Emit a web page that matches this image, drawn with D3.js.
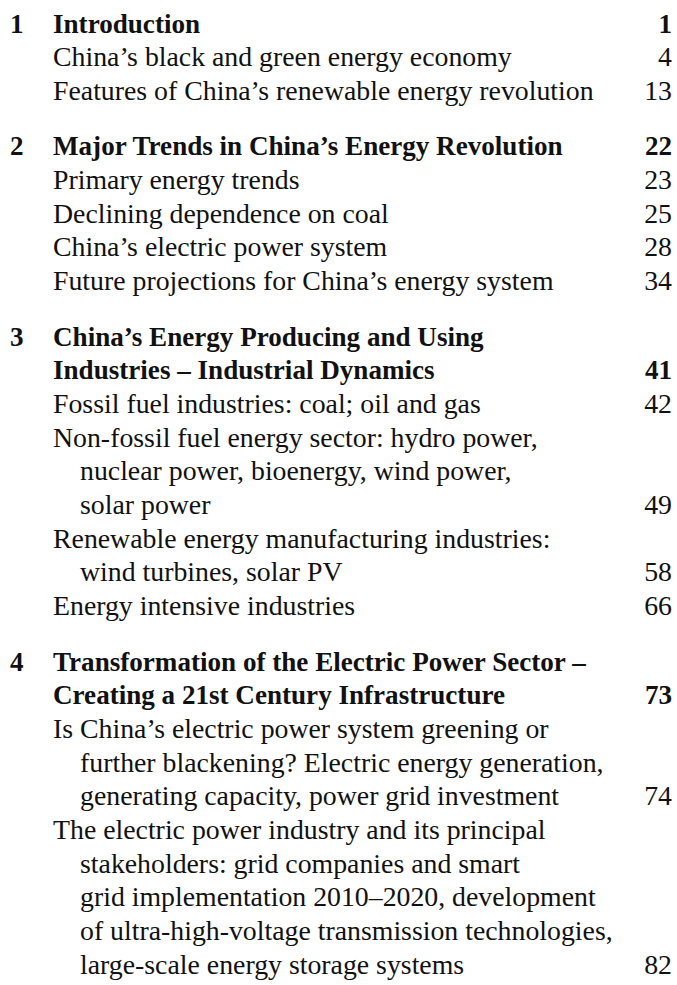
<!DOCTYPE html>
<html>
<head>
<meta charset="utf-8">
<script src="https://cdn.jsdelivr.net/npm/d3@7"></script>
<style>
  html, body { margin: 0; padding: 0; background: #fff; }
  svg { display: block; }
</style>
</head>
<body>
<div id="toc"></div>
<script>
// Table des matières : données
const chapterNums = ["1", "", "", "2", "", "", "", "", "3", "", "", "", "", "4", "", ""];
const entryLines = [
  ["Introduction"],
  ["China’s black and green energy economy"],
  ["Features of China’s renewable energy revolution"],
  ["Major Trends in China’s Energy Revolution"],
  ["Primary energy trends"],
  ["Declining dependence on coal"],
  ["China’s electric power system"],
  ["Future projections for China’s energy system"],
  ["China’s Energy Producing and Using", "Industries – Industrial Dynamics"],
  ["Fossil fuel industries: coal; oil and gas"],
  ["Non-fossil fuel energy sector: hydro power,", "nuclear power, bioenergy, wind power,", "solar power"],
  ["Renewable energy manufacturing industries:", "wind turbines, solar PV"],
  ["Energy intensive industries"],
  ["Transformation of the Electric Power Sector –", "Creating a 21st Century Infrastructure"],
  ["Is China’s electric power system greening or", "further blackening? Electric energy generation,", "generating capacity, power grid investment"],
  ["The electric power industry and its principal", "stakeholders: grid companies and smart", "grid implementation 2010–2020, development", "of ultra-high-voltage transmission technologies,", "large-scale energy storage systems"]
];
const entryPages = ["1", "4", "13", "22", "23", "25", "28", "34", "41", "42", "49", "58", "66", "73", "74", "82"];

const width = 677;
const height = 985;
const lineStep = 33.7;   // interligne
const chapterGap = 21.7; // espace avant un chapitre
const numX = 10, titleX = 53, indentX = 80, pageX = 672;

// position verticale de chaque entrée (en unités de ligne + espaces)
let cursor = 0;
const rows = entryLines.map((lines, i) => {
  const isChapter = chapterNums[i] !== "";
  if (isChapter && i > 0) cursor += chapterGap / lineStep;
  const start = cursor;
  cursor += lines.length;
  return { i, lines, start, isChapter, num: chapterNums[i], page: entryPages[i] };
});

const y = d3.scaleLinear().domain([0, 1]).range([32.5, 32.5 + lineStep]);

const svg = d3.select('#toc').append('svg')
  .attr('width', width)
  .attr('height', height)
  .style('font-family', '"Liberation Serif", "DejaVu Serif", serif')
  .style('fill', '#111');

const g = svg.selectAll('g.entry')
  .data(rows)
  .join('g')
  .attr('class', 'entry')
  .style('font-weight', d => d.isChapter ? 'bold' : 'normal')
  .style('font-size', d => d.isChapter ? '27.1px' : '27.8px');

// numéro de chapitre
g.filter(d => d.isChapter)
  .append('text')
  .attr('x', numX)
  .attr('y', d => y(d.start))
  .text(d => d.num);

// lignes du titre
g.selectAll('text.line')
  .data(d => d.lines.map((t, k) => ({ t, k, start: d.start, isChapter: d.isChapter })))
  .join('text')
  .attr('class', 'line')
  .attr('x', d => (d.k > 0 && !d.isChapter) ? indentX : titleX)
  .attr('y', d => y(d.start + d.k))
  .text(d => d.t);

// numéro de page, sur la dernière ligne
g.append('text')
  .attr('x', pageX)
  .attr('y', d => y(d.start + d.lines.length - 1))
  .attr('text-anchor', 'end')
  .text(d => d.page);
</script>
</body>
</html>
